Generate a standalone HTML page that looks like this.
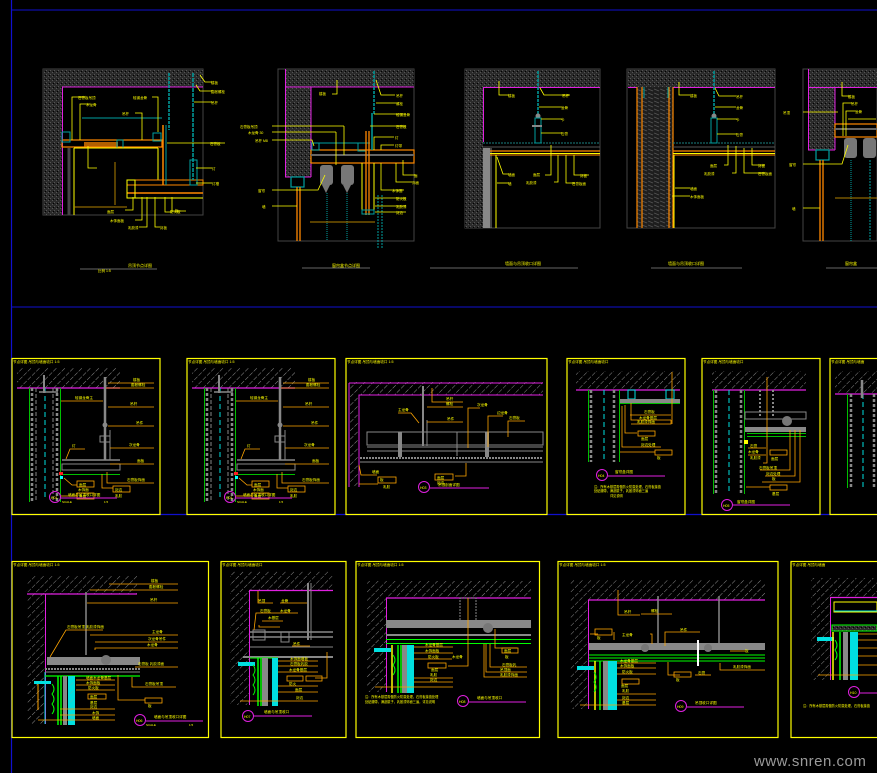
<!DOCTYPE html>
<html><head><meta charset="utf-8"><style>
html,body{margin:0;padding:0;background:#000;}
svg{display:block}
text{font-family:"Liberation Sans","Noto Sans CJK SC",sans-serif;}
</style></head><body>
<svg width="877" height="773" viewBox="0 0 877 773" xmlns="http://www.w3.org/2000/svg">
<defs>
<pattern id="cx" width="4" height="4" patternUnits="userSpaceOnUse">
<rect width="4" height="4" fill="#2a2a2a"/><rect x="0" y="0" width="1" height="1" fill="#555"/><rect x="2" y="2" width="1" height="1" fill="#555"/><rect x="1" y="3" width="1" height="1" fill="#000"/>
</pattern>
<pattern id="dg" width="6" height="6" patternUnits="userSpaceOnUse" patternTransform="rotate(45)">
<line x1="0" y1="0" x2="0" y2="6" stroke="#9a9a9a" stroke-width="0.9" stroke-dasharray="3,1.5"/>
</pattern>
<pattern id="wd" width="6" height="4" patternUnits="userSpaceOnUse">
<rect width="6" height="4" fill="#1e1e1e"/><line x1="0" y1="1" x2="5" y2="3" stroke="#555" stroke-width="0.8"/>
</pattern>
</defs>
<rect width="877" height="773" fill="#000"/>
<!-- frame lines -->
<line x1="11" y1="10" x2="877" y2="10" stroke="#1010d0" stroke-width="1"/>
<line x1="11" y1="307" x2="877" y2="307" stroke="#1010d0" stroke-width="1"/>
<line x1="11" y1="514.5" x2="877" y2="514.5" stroke="#1010d0" stroke-width="1.2"/>
<line x1="11.5" y1="0" x2="11.5" y2="773" stroke="#1010d0" stroke-width="1.2"/>

<!-- ===== TOP ROW ===== -->
<!-- D1 -->
<g>
<rect x="43" y="69" width="160" height="146" fill="none" stroke="#444"/>
<rect x="43" y="69" width="160" height="18" fill="url(#cx)"/>
<rect x="43" y="87" width="19" height="128" fill="url(#cx)"/>
<line x1="62" y1="87" x2="203" y2="87" stroke="#e020e0"/>
<line x1="62.5" y1="87" x2="62.5" y2="215" stroke="#e020e0"/>
<rect x="62" y="140" width="100" height="7" fill="none" stroke="#ff8800" stroke-width="1.2"/>
<rect x="84" y="142" width="34" height="5" fill="#ff8800" opacity="0.7"/>
<rect x="62" y="132" width="8" height="10" fill="none" stroke="#00a0a0"/>
<rect x="117" y="140" width="6" height="8" fill="none" stroke="#00a0a0"/>
<rect x="153" y="133" width="8" height="8" fill="none" stroke="#00a0a0"/>
<line x1="82" y1="118" x2="162" y2="118" stroke="#00a0a0"/>
<line x1="69" y1="148" x2="69" y2="215" stroke="#444" stroke-width="3"/>
<line x1="74" y1="148" x2="74" y2="215" stroke="#ffff00"/>
<line x1="74" y1="148" x2="158" y2="148" stroke="#ffff00"/>
<line x1="158" y1="148" x2="158" y2="180" stroke="#ffff00"/>
<rect x="127" y="180" width="76" height="5" fill="none" stroke="#ff8800"/>
<line x1="127" y1="193" x2="203" y2="193" stroke="#ff8800" stroke-width="1.4"/>
<line x1="127" y1="198" x2="203" y2="198" stroke="#ffff00"/>
<rect x="127" y="180" width="8" height="18" fill="none" stroke="#ffff00"/>
<line x1="163" y1="125" x2="163" y2="185" stroke="#ff8800" stroke-width="1.5"/>
<line x1="166" y1="125" x2="166" y2="185" stroke="#00a0a0"/>
<line x1="169" y1="73" x2="169" y2="130" stroke="#00a0a0" stroke-width="1.5" stroke-dasharray="3,1"/>
<line x1="193" y1="73" x2="193" y2="180" stroke="#00a0a0" stroke-width="1.5" stroke-dasharray="4,1"/>
<rect x="190" y="160" width="7" height="25" fill="none" stroke="#00a0a0"/>
<line x1="115" y1="162" x2="115" y2="205" stroke="#b08000"/>
<line x1="74" y1="207" x2="127" y2="207" stroke="#b08000"/>
<g stroke="#ffff00" stroke-width="0.8" fill="none">
<polyline points="72,140 72,97 85,97"/><polyline points="80,140 80,104 90,104"/><polyline points="158,132 158,97 152,97"/>
<polyline points="142,140 142,113 135,113"/><polyline points="88,146 88,168 97,168"/><polyline points="200,75 205,82 212,82"/>
<polyline points="196,85 200,91 212,91"/><line x1="194" y1="102" x2="212" y2="102"/><line x1="167" y1="143" x2="225" y2="143"/>
<line x1="196" y1="168" x2="212" y2="168"/><line x1="196" y1="183" x2="212" y2="183"/><polyline points="133,197 133,210 125,210"/>
<polyline points="142,197 142,220 135,220"/><polyline points="147,197 147,227 139,227"/><polyline points="155,197 155,227 160,227"/>
<polyline points="165,197 165,212 172,212"/><polyline points="172,197 172,211 186,211"/>
</g>
<g fill="#ffff00" font-size="3.5">
<text x="78" y="99">石膏板吊顶</text><text x="86" y="106">木龙骨</text><text x="133" y="99">轻钢龙骨</text><text x="122" y="115">吊杆</text>
<text x="211" y="84">楼板</text><text x="211" y="93">膨胀螺栓</text><text x="211" y="104">吊杆</text><text x="210" y="145">石膏板</text>
<text x="212" y="170">灯</text><text x="212" y="185">灯槽</text><text x="107" y="213">面层</text><text x="110" y="222">木饰面板</text>
<text x="128" y="229">乳胶漆</text><text x="160" y="229">封板</text><text x="170" y="213">防火板</text><text x="175" y="212">板</text>
</g>
<text x="128" y="267" fill="#ffff00" font-size="4">吊顶节点详图</text>
<line x1="80" y1="269" x2="157" y2="269" stroke="#666"/>
<text x="98" y="272" fill="#ffff00" font-size="3.5">比例 1:5</text>
</g>

<!-- D2 -->
<g>
<rect x="278" y="69" width="136" height="172" fill="none" stroke="#444"/>
<rect x="285" y="69" width="129" height="18" fill="url(#cx)"/>
<rect x="285" y="87" width="26" height="90" fill="url(#cx)"/>
<line x1="285.5" y1="69" x2="285.5" y2="177" stroke="#e020e0"/>
<line x1="285" y1="87" x2="414" y2="87" stroke="#e020e0"/>
<line x1="311" y1="87" x2="311" y2="177" stroke="#e020e0"/>
<line x1="285" y1="177" x2="311" y2="177" stroke="#e020e0"/>
<rect x="291" y="177" width="13" height="10" fill="none" stroke="#00a0a0" stroke-width="1.2"/>
<line x1="297" y1="187" x2="297" y2="241" stroke="#ff8800" stroke-width="1.3"/>
<line x1="300" y1="187" x2="300" y2="241" stroke="#ff8800" stroke-width="1.3"/>
<rect x="311" y="150" width="103" height="13" fill="none" stroke="#ff8800" stroke-width="1.2"/>
<line x1="311" y1="155" x2="414" y2="155" stroke="#666" stroke-width="2"/>
<line x1="311" y1="143" x2="370" y2="143" stroke="#00a0a0"/>
<rect x="312" y="143" width="7" height="7" fill="none" stroke="#00a0a0"/>
<rect x="358" y="143" width="8" height="8" fill="none" stroke="#00a0a0"/>
<rect x="320" y="165" width="13" height="20" rx="3" fill="#777"/><rect x="341" y="165" width="13" height="20" rx="3" fill="#777"/>
<path d="M322,185 l4,8 l4,-8 M343,185 l4,8 l4,-8" fill="#777"/>
<line x1="327" y1="193" x2="327" y2="241" stroke="#00a0a0" stroke-dasharray="1,1"/>
<line x1="347" y1="193" x2="347" y2="241" stroke="#00a0a0" stroke-dasharray="1,1"/>
<line x1="366" y1="131" x2="366" y2="215" stroke="#ff8800" stroke-width="1.3"/>
<line x1="369" y1="131" x2="369" y2="215" stroke="#ff8800" stroke-width="1.3"/>
<line x1="372" y1="113" x2="372" y2="150" stroke="#00a0a0" stroke-width="1.5"/>
<line x1="374" y1="71" x2="374" y2="115" stroke="#00a0a0" stroke-width="1.5" stroke-dasharray="3,1"/>
<line x1="362" y1="163" x2="362" y2="213" stroke="#ffff00"/>
<line x1="374" y1="163" x2="374" y2="213" stroke="#ffff00"/>
<rect x="362" y="210" width="12" height="4" fill="none" stroke="#00a0a0"/>
<line x1="378" y1="195" x2="378" y2="248" stroke="#00a0a0" stroke-dasharray="2,1"/>
<line x1="382" y1="195" x2="382" y2="248" stroke="#00a0a0" stroke-dasharray="2,1"/>
<line x1="310" y1="222" x2="375" y2="222" stroke="#b08000"/>
<g stroke="#ffff00" stroke-width="0.8" fill="none">
<line x1="272" y1="126" x2="344" y2="126"/><line x1="344" y1="126" x2="344" y2="155"/>
<line x1="272" y1="132" x2="336" y2="132"/><line x1="336" y1="132" x2="336" y2="165"/>
<polyline points="272,140 312,140 314,146"/><polyline points="272,190 318,190 325,175"/><line x1="272" y1="206" x2="297" y2="206"/>
<polyline points="337,80 337,94 332,94"/><polyline points="376,80 381,95 395,95"/><line x1="376" y1="103" x2="396" y2="103"/>
<line x1="374" y1="114" x2="406" y2="114"/><line x1="370" y1="126" x2="406" y2="126"/><polyline points="374,150 374,137 394,137"/>
<polyline points="381,150 381,145 394,145"/><polyline points="403,160 403,175 415,175"/><polyline points="396,163 396,182 412,182"/>
<polyline points="381,163 381,190 404,190"/><line x1="375" y1="198" x2="406" y2="198"/><line x1="375" y1="206" x2="406" y2="206"/><line x1="375" y1="212" x2="406" y2="212"/>
</g>
<g fill="#ffff00" font-size="3.5">
<text x="240" y="128">石膏板吊顶</text><text x="248" y="134">木龙骨 30</text><text x="255" y="142">吊杆 M8</text><text x="258" y="192">窗帘</text><text x="262" y="208">墙</text>
<text x="319" y="95">楼板</text><text x="396" y="97">吊杆</text><text x="396" y="105">螺栓</text><text x="396" y="116">轻钢龙骨</text><text x="396" y="128">石膏板</text>
<text x="395" y="139">灯</text><text x="395" y="147">灯带</text><text x="414" y="177">面</text><text x="412" y="184">饰面</text><text x="392" y="192">木饰面</text>
<text x="396" y="200">防火板</text><text x="396" y="208">乳胶漆</text><text x="396" y="214">封边</text>
</g>
<text x="332" y="267" fill="#ffff00" font-size="4">窗帘盒节点详图</text>
<line x1="302" y1="268" x2="370" y2="268" stroke="#666"/>
</g>

<!-- D3 -->
<g>
<rect x="465" y="69" width="135" height="159" fill="none" stroke="#444"/>
<rect x="465" y="69" width="135" height="18" fill="url(#cx)"/>
<rect x="465" y="87" width="18" height="141" fill="url(#cx)"/>
<line x1="483" y1="87.5" x2="600" y2="87.5" stroke="#e020e0"/>
<line x1="483.5" y1="87" x2="483.5" y2="142" stroke="#e020e0"/>
<rect x="483" y="148" width="7" height="80" fill="#888"/>
<line x1="491" y1="148" x2="491" y2="228" stroke="#ddd" stroke-width="0.6"/>
<line x1="483" y1="143" x2="600" y2="143" stroke="#1a8080" stroke-dasharray="2,1"/>
<line x1="483" y1="147" x2="600" y2="147" stroke="#555"/>
<line x1="490" y1="151" x2="600" y2="151" stroke="#ff8800" stroke-width="1.2"/>
<line x1="490" y1="153.5" x2="600" y2="153.5" stroke="#ffff00"/>
<line x1="490" y1="155" x2="600" y2="155" stroke="#ff8800"/>
<line x1="496" y1="155" x2="496" y2="228" stroke="#ffff00"/>
<line x1="538" y1="71" x2="538" y2="115" stroke="#00a0a0" stroke-width="1.5" stroke-dasharray="3,1"/>
<circle cx="538" cy="116" r="2.5" fill="#888"/>
<rect x="535" y="118" width="6" height="25" fill="none" stroke="#00a0a0"/>
<line x1="532" y1="126" x2="542" y2="126" stroke="#888" stroke-width="2"/>
<g stroke="#ffff00" stroke-width="0.8" fill="none">
<polyline points="499,81 499,95 509,95"/><polyline points="540,88 544,95 570,95"/><line x1="539" y1="107" x2="562" y2="107"/>
<line x1="541" y1="119" x2="562" y2="119"/><line x1="541" y1="133" x2="562" y2="133"/><polyline points="497,157 503,174 509,174"/>
<polyline points="551,145 551,175 545,175"/><polyline points="558,155 558,182 554,182"/><polyline points="566,155 566,183 575,183"/>
<polyline points="574,155 574,175 589,175"/><line x1="497" y1="183" x2="509" y2="183"/>
</g>
<g fill="#ffff00" font-size="3.5">
<text x="508" y="97">楼板</text><text x="562" y="97">吊杆</text><text x="561" y="109">龙骨</text><text x="561" y="121">卡</text><text x="561" y="135">石膏</text>
<text x="508" y="176">墙面</text><text x="533" y="176">面层</text><text x="526" y="184">乳胶漆</text><text x="572" y="185">石膏板面</text><text x="580" y="177">封板</text><text x="508" y="185">墙</text>
</g>
<text x="505" y="265" fill="#ffff00" font-size="4">墙面与吊顶收口详图</text>
<line x1="430" y1="268" x2="578" y2="268" stroke="#666"/>
</g>

<!-- D4 -->
<g>
<rect x="627" y="69" width="148" height="159" fill="none" stroke="#444"/>
<rect x="627" y="69" width="148" height="18" fill="url(#cx)"/>
<line x1="628" y1="87.5" x2="775" y2="87.5" stroke="#e020e0"/>
<rect x="637" y="87" width="36" height="141" fill="url(#wd)"/>
<line x1="637" y1="87" x2="637" y2="228" stroke="#ff8800" stroke-width="1.2"/>
<line x1="642" y1="87" x2="642" y2="228" stroke="#ff8800" stroke-width="1.2"/>
<line x1="669" y1="87" x2="669" y2="228" stroke="#ff8800" stroke-width="1.2"/>
<line x1="673" y1="87" x2="673" y2="228" stroke="#ff8800" stroke-width="1.2"/>
<line x1="644" y1="87" x2="644" y2="98" stroke="#00a0a0"/><line x1="668" y1="87" x2="668" y2="98" stroke="#00a0a0"/>
<line x1="673" y1="143" x2="775" y2="143" stroke="#1a8080" stroke-dasharray="2,1"/>
<line x1="673" y1="147" x2="775" y2="147" stroke="#555"/>
<line x1="673" y1="151" x2="775" y2="151" stroke="#ff8800" stroke-width="1.2"/>
<line x1="673" y1="153.5" x2="775" y2="153.5" stroke="#ffff00"/>
<line x1="673" y1="155" x2="775" y2="155" stroke="#ff8800"/>
<line x1="674" y1="155" x2="674" y2="228" stroke="#ffff00"/>
<line x1="714" y1="71" x2="714" y2="115" stroke="#00a0a0" stroke-width="1.5" stroke-dasharray="3,1"/>
<circle cx="714" cy="116" r="2.5" fill="#888"/>
<rect x="711" y="118" width="6" height="25" fill="none" stroke="#00a0a0"/>
<g stroke="#ffff00" stroke-width="0.8" fill="none">
<polyline points="679,82 679,95 690,95"/><polyline points="715,88 719,96 736,96"/><line x1="715" y1="107" x2="736" y2="107"/>
<line x1="717" y1="119" x2="737" y2="119"/><line x1="717" y1="134" x2="737" y2="134"/><polyline points="728,145 728,165 724,165"/>
<polyline points="736,146 736,173 732,173"/><polyline points="744,148 744,173 765,173"/><polyline points="752,148 752,165 765,165"/>
<line x1="675" y1="188" x2="690" y2="188"/><line x1="672" y1="196" x2="690" y2="196"/>
</g>
<g fill="#ffff00" font-size="3.5">
<text x="690" y="97">楼板</text><text x="736" y="98">吊杆</text><text x="736" y="109">龙骨</text><text x="736" y="121">卡</text><text x="736" y="136">石膏</text>
<text x="710" y="167">面层</text><text x="704" y="175">乳胶漆</text><text x="758" y="175">石膏板面</text><text x="758" y="167">封板</text><text x="690" y="190">墙面</text><text x="690" y="198">木饰面板</text>
</g>
<text x="668" y="265" fill="#ffff00" font-size="4">墙面与吊顶收口详图</text>
<line x1="651" y1="268" x2="742" y2="268" stroke="#666"/>
</g>

<!-- D5 -->
<g>
<rect x="803" y="69" width="74" height="172" fill="none" stroke="#444"/>
<rect x="808" y="69" width="69" height="18" fill="url(#cx)"/>
<rect x="808" y="87" width="27" height="63" fill="url(#cx)"/>
<line x1="808.5" y1="69" x2="808.5" y2="150" stroke="#e020e0"/>
<line x1="808" y1="87.5" x2="877" y2="87.5" stroke="#e020e0"/>
<line x1="835" y1="87" x2="835" y2="150" stroke="#e020e0"/>
<line x1="808" y1="150" x2="835" y2="150" stroke="#e020e0"/>
<rect x="816" y="150" width="13" height="10" fill="none" stroke="#00a0a0" stroke-width="1.2"/>
<line x1="820" y1="160" x2="820" y2="241" stroke="#ff8800" stroke-width="1.3"/>
<line x1="823" y1="160" x2="823" y2="241" stroke="#ff8800" stroke-width="1.3"/>
<rect x="835" y="124" width="42" height="13" fill="none" stroke="#ff8800" stroke-width="1.2"/>
<line x1="835" y1="129" x2="877" y2="129" stroke="#666" stroke-width="2"/>
<rect x="844" y="138" width="13" height="20" rx="3" fill="#777"/><rect x="863" y="138" width="13" height="20" rx="3" fill="#777"/>
<line x1="851" y1="160" x2="851" y2="241" stroke="#00a0a0" stroke-dasharray="1,1"/>
<line x1="870" y1="160" x2="870" y2="241" stroke="#00a0a0" stroke-dasharray="2,1"/>
<line x1="835" y1="198" x2="877" y2="198" stroke="#b08000"/>
<g stroke="#ffff00" stroke-width="0.8" fill="none">
<polyline points="842,82 842,96 850,96"/><polyline points="843,136 843,103 852,103"/><polyline points="846,136 846,111 856,111"/>
<line x1="848" y1="119" x2="876" y2="119"/><line x1="803" y1="112" x2="838" y2="112"/><polyline points="803,164 842,164 848,145"/><line x1="803" y1="208" x2="820" y2="208"/>
</g>
<g fill="#ffff00" font-size="3.5"><text x="848" y="98">楼板</text><text x="851" y="105">吊杆</text><text x="855" y="113">龙骨</text><text x="783" y="114">吊顶</text><text x="789" y="166">窗帘</text><text x="792" y="210">墙</text></g>
<text x="845" y="265" fill="#ffff00" font-size="4">窗帘盒</text>
<line x1="826" y1="268" x2="877" y2="268" stroke="#666"/>
</g>

<!-- ===== MIDDLE ROW ===== -->
<g fill="none" stroke="#ffff00" stroke-width="1.2">
<rect x="12" y="358.5" width="148" height="156"/>
<rect x="187" y="358.5" width="148" height="156"/>
<rect x="346" y="358.5" width="201" height="156"/>
<rect x="567" y="358.5" width="118" height="156"/>
<rect x="702" y="358.5" width="118" height="156"/>
<rect x="830" y="358.5" width="60" height="156"/>
</g>
<g fill="#ffff00" font-size="3.6">
<text x="13" y="363">节点详图 吊顶与墙面收口 1:5</text>
<text x="188" y="363">节点详图 吊顶与墙面收口 1:5</text>
<text x="347" y="363">节点详图 吊顶与墙面收口 1:5</text>
<text x="568" y="363">节点详图 吊顶与墙面收口</text>
<text x="703" y="363">节点详图 吊顶与墙面收口</text>
<text x="831" y="363">节点详图 吊顶与墙面</text>
</g>

<!-- MP1 & MP2 (same design) -->
<g id="mp1">
<rect x="17" y="368" width="103" height="20" fill="url(#dg)"/>
<line x1="17" y1="388" x2="120" y2="388" stroke="#e020e0" stroke-width="1.2"/>
<line x1="29.5" y1="388" x2="29.5" y2="502" stroke="#00c000"/>
<line x1="60.5" y1="388" x2="60.5" y2="502" stroke="#00c000"/>
<line x1="32" y1="388" x2="32" y2="502" stroke="#888" stroke-width="2.5" stroke-dasharray="3,2"/>
<line x1="36" y1="388" x2="36" y2="502" stroke="#888" stroke-dasharray="4,2"/>
<line x1="53" y1="388" x2="53" y2="502" stroke="#888" stroke-dasharray="4,2"/>
<line x1="57" y1="388" x2="57" y2="502" stroke="#888" stroke-width="2.5" stroke-dasharray="3,2"/>
<line x1="45" y1="388" x2="45" y2="500" stroke="#00e0e0" stroke-dasharray="5,3"/>
<line x1="44" y1="375" x2="44" y2="393" stroke="#888" stroke-width="2"/>
<line x1="39" y1="392" x2="58" y2="392" stroke="#888" stroke-width="1.5"/>
<line x1="105" y1="377" x2="105" y2="460" stroke="#888" stroke-width="2.5"/>
<circle cx="105" cy="425" r="2.5" fill="#888"/>
<rect x="100" y="436" width="10" height="6" fill="none" stroke="#888"/>
<line x1="110" y1="430" x2="110" y2="460" stroke="#888"/>
<line x1="62" y1="460" x2="120" y2="460" stroke="#888" stroke-width="1.5"/>
<rect x="62" y="464" width="58" height="6" fill="none" stroke="#888"/>
<line x1="62" y1="474.5" x2="120" y2="474.5" stroke="#00c000"/>
<rect x="59" y="472" width="4" height="3" fill="#ff2020"/><rect x="60" y="476" width="3" height="3" fill="#00ffff"/>
<g stroke="#ffa500" stroke-width="0.8" fill="none">
<line x1="108" y1="383" x2="154" y2="383"/><line x1="106" y1="388" x2="154" y2="388"/><line x1="61" y1="401" x2="103" y2="401"/>
<line x1="108" y1="407" x2="154" y2="407"/><line x1="108" y1="426" x2="154" y2="426"/><line x1="110" y1="448" x2="154" y2="448"/>
<line x1="110" y1="464" x2="154" y2="464"/><polyline points="107,472 107,483 154,483"/><polyline points="102,474 102,488 113,488"/>
<polyline points="66,459 70,449 85,449"/><polyline points="64,478 72,485 77,485"/><line x1="61" y1="496" x2="77" y2="496"/>
</g>
<g fill="none" stroke="#ffa500" stroke-width="0.8"><rect x="77" y="481" width="17" height="6"/><rect x="77" y="493" width="17" height="6"/><rect x="113" y="486" width="17" height="6"/></g>
<g fill="#ffff00" font-size="3.6">
<text x="133" y="381">楼板</text><text x="131" y="386">膨胀螺栓</text><text x="75" y="399">轻钢龙骨主</text><text x="130" y="405">吊杆</text><text x="136" y="424">吊件</text>
<text x="129" y="446">次龙骨</text><text x="137" y="462">面板</text><text x="127" y="481">石膏板饰面</text><text x="72" y="447">灯</text>
<text x="79" y="486">面层</text><text x="79" y="498">基层</text><text x="115" y="491">封边</text><text x="78" y="491">木饰面</text><text x="115" y="497">乳胶</text>
</g>
<circle cx="55" cy="497" r="5.5" fill="none" stroke="#e020e0"/>
<text x="51" y="499" fill="#ffff00" font-size="3.5">H01</text>
<line x1="61" y1="498" x2="117" y2="498" stroke="#e020e0"/>
<text x="68" y="496" fill="#ffff00" font-size="3.6">墙面与吊顶收口详图</text>
<text x="62" y="503" fill="#ffff00" font-size="3">SCALE</text><text x="104" y="503" fill="#ffff00" font-size="3">1:5</text>
</g>
<use href="#mp1" x="175"/>

<!-- MP3 -->
<g>
<rect x="349" y="382" width="194" height="13" fill="url(#dg)"/>
<rect x="349" y="395" width="10" height="92" fill="url(#dg)"/>
<polyline points="349,383 543,383" stroke="#e020e0" fill="none"/>
<line x1="349" y1="383" x2="349" y2="487" stroke="#e020e0"/>
<polyline points="359,487 359,395 543,395" stroke="#e020e0" fill="none"/>
<line x1="423" y1="386" x2="423" y2="446" stroke="#888" stroke-width="2"/>
<line x1="427" y1="420" x2="427" y2="446" stroke="#888"/>
<rect x="367" y="432" width="176" height="13" fill="none" stroke="#888"/>
<line x1="367" y1="447" x2="543" y2="447" stroke="#888"/>
<line x1="367" y1="451" x2="543" y2="451" stroke="#888"/>
<line x1="360" y1="458" x2="543" y2="458" stroke="#888" stroke-dasharray="2,1" stroke-width="2"/>
<line x1="360" y1="462" x2="543" y2="462" stroke="#888"/>
<rect x="398" y="432" width="4" height="25" fill="#888"/><rect x="485" y="432" width="4" height="25" fill="#888"/>
<line x1="457" y1="432" x2="457" y2="456" stroke="#888"/>
<g stroke="#ffa500" stroke-width="0.8" fill="none">
<polyline points="432,388 432,402 463,402"/><line x1="427" y1="407" x2="463" y2="407"/><polyline points="419,423 411,413 398,413"/>
<line x1="427" y1="422" x2="463" y2="422"/><polyline points="468,448 468,408 480,408"/><polyline points="488,447 488,416 503,416"/>
<polyline points="508,437 508,421 525,421"/><polyline points="466,463 466,476 455,476"/><polyline points="359,465 361,475 377,475"/><line x1="359" y1="484" x2="378" y2="484"/>
</g>
<g fill="none" stroke="#ffa500" stroke-width="0.8"><rect x="435" y="474" width="18" height="6"/><rect x="378" y="477" width="18" height="6"/></g>
<g fill="#ffff00" font-size="3.6">
<text x="446" y="400">吊杆</text><text x="446" y="405">螺栓</text><text x="398" y="411">主龙骨</text><text x="447" y="420">吊件</text><text x="477" y="406">次龙骨</text>
<text x="497" y="414">边龙骨</text><text x="509" y="419">石膏板</text><text x="372" y="473">墙面</text><text x="437" y="479">面层</text><text x="437" y="484">封边</text><text x="380" y="481">板</text><text x="383" y="488">乳胶</text>
</g>
<circle cx="424" cy="487" r="5.5" fill="none" stroke="#e020e0"/>
<text x="420" y="489" fill="#ffff00" font-size="3.5">H03</text>
<line x1="430" y1="488" x2="489" y2="488" stroke="#e020e0"/>
<text x="438" y="486" fill="#ffff00" font-size="3.6">吊顶剖面详图</text>
</g>

<!-- MP4 -->
<g>
<rect x="576" y="371" width="104" height="19" fill="url(#dg)"/>
<line x1="576" y1="390" x2="680" y2="390" stroke="#e020e0" stroke-width="1.2"/>
<line x1="588.5" y1="390" x2="588.5" y2="462" stroke="#00c000"/>
<line x1="619.5" y1="390" x2="619.5" y2="462" stroke="#00c000"/>
<line x1="591" y1="390" x2="591" y2="462" stroke="#888" stroke-width="2.5" stroke-dasharray="3,2"/>
<line x1="614" y1="390" x2="614" y2="462" stroke="#888" stroke-width="2.5" stroke-dasharray="3,2"/>
<line x1="604" y1="390" x2="604" y2="462" stroke="#00e0e0" stroke-dasharray="5,3"/>
<rect x="628" y="390" width="7" height="9" fill="none" stroke="#00e0e0"/><rect x="666" y="390" width="8" height="9" fill="none" stroke="#00e0e0"/>
<rect x="620" y="399" width="60" height="4" fill="#888"/>
<line x1="620" y1="403.5" x2="680" y2="403.5" stroke="#00c000"/>
<g stroke="#ffa500" stroke-width="0.8" fill="none">
<polyline points="631,403 631,420 671,420"/><line x1="630" y1="415" x2="671" y2="415"/><polyline points="671,420 671,424 631,424"/>
<polyline points="672,372 672,424"/><polyline point="625,405" points="625,405 625,433 637,433"/><polyline points="622,406 622,447 661,447"/><polyline points="620,452 655,452"/>
</g>
<g fill="none" stroke="#ffa500" stroke-width="0.8"><rect x="638" y="431" width="17" height="5"/><rect x="655" y="450" width="17" height="5"/></g>
<g fill="#ffff00" font-size="3.6"><text x="644" y="413">石膏板</text><text x="639" y="419">木龙骨基层</text><text x="637" y="423">乳胶漆饰面</text><text x="641" y="440">面层</text><text x="641" y="446">封边处理</text><text x="657" y="459">板</text></g>
<circle cx="602" cy="475" r="5.5" fill="none" stroke="#e020e0"/>
<text x="598" y="477" fill="#ffff00" font-size="3.5">H04</text>
<line x1="608" y1="476" x2="665" y2="476" stroke="#e020e0"/>
<text x="615" y="473" fill="#ffff00" font-size="3.6">窗帘盒详图</text>
<g fill="#ffff00" font-size="3.2"><text x="594" y="488">注：所有木基层需做防火防腐处理，石膏板接缝</text><text x="594" y="492">处贴绷带，满刮腻子，乳胶漆饰面三遍</text><text x="610" y="497">详见说明</text></g>
</g>

<!-- MP5 -->
<g>
<rect x="712" y="371" width="94" height="19" fill="url(#dg)"/>
<line x1="712" y1="390" x2="806" y2="390" stroke="#e020e0" stroke-width="1.2"/>
<line x1="713.5" y1="390" x2="713.5" y2="494" stroke="#00c000"/>
<line x1="744.5" y1="390" x2="744.5" y2="494" stroke="#00c000"/>
<line x1="716" y1="390" x2="716" y2="494" stroke="#888" stroke-width="2.5" stroke-dasharray="3,2"/>
<line x1="741" y1="390" x2="741" y2="494" stroke="#888" stroke-width="2.5" stroke-dasharray="3,2"/>
<line x1="729" y1="390" x2="729" y2="492" stroke="#00e0e0" stroke-dasharray="5,3"/>
<line x1="760" y1="390" x2="760" y2="418" stroke="#888" stroke-dasharray="2,2" stroke-width="2"/>
<line x1="773" y1="390" x2="773" y2="418" stroke="#888" stroke-dasharray="2,2" stroke-width="2"/>
<rect x="745" y="412" width="61" height="7" fill="none" stroke="#888"/>
<rect x="745" y="427" width="61" height="5" fill="#888"/>
<circle cx="787" cy="421" r="5" fill="#777"/>
<line x1="747" y1="433.5" x2="806" y2="433.5" stroke="#00c000"/>
<line x1="747" y1="436.5" x2="806" y2="436.5" stroke="#00c000"/>
<rect x="744" y="440" width="4" height="4" fill="#ffff00"/>
<g stroke="#ffa500" stroke-width="0.8" fill="none">
<polyline points="767,377 767,463 763,463"/><polyline points="790,430 790,470 760,470"/><polyline points="795,430 795,476 765,476"/>
<polyline points="800,430 800,482 762,482"/><line x1="746" y1="487" x2="770" y2="487"/><line x1="748" y1="448" x2="766" y2="448"/><line x1="748" y1="455" x2="766" y2="455"/>
</g>
<g fill="none" stroke="#ffa500" stroke-width="0.8"><rect x="770" y="450" width="17" height="5"/><rect x="770" y="485" width="17" height="5"/></g>
<g fill="#ffff00" font-size="3.6"><text x="750" y="447">石膏</text><text x="748" y="453">木龙骨</text><text x="750" y="459">乳胶漆</text><text x="771" y="460">面层</text><text x="759" y="469">石膏板吊顶</text><text x="766" y="475">封边处理</text><text x="772" y="480">板</text><text x="772" y="495">基层</text></g>
<circle cx="727" cy="505" r="5.5" fill="none" stroke="#e020e0"/>
<text x="723" y="507" fill="#ffff00" font-size="3.5">H05</text>
<line x1="733" y1="505" x2="790" y2="505" stroke="#e020e0"/>
<text x="737" y="503" fill="#ffff00" font-size="3.6">窗帘盒详图</text>
</g>

<!-- MP6 -->
<g>
<rect x="835" y="371" width="42" height="23" fill="url(#dg)"/>
<line x1="835" y1="394" x2="877" y2="394" stroke="#e020e0" stroke-width="1.2"/>
<line x1="847.5" y1="394" x2="847.5" y2="488" stroke="#00c000"/>
<line x1="851" y1="394" x2="851" y2="488" stroke="#888" stroke-width="2.5" stroke-dasharray="3,2"/>
<line x1="863" y1="394" x2="863" y2="488" stroke="#00e0e0" stroke-dasharray="5,3"/>
<line x1="874" y1="394" x2="874" y2="488" stroke="#888" stroke-width="2.5" stroke-dasharray="3,2"/>
<line x1="862" y1="380" x2="862" y2="398" stroke="#888" stroke-width="2.5"/>
</g>

<!-- ===== BOTTOM ROW ===== -->
<g fill="none" stroke="#ffff00" stroke-width="1.2">
<rect x="12" y="561.5" width="196.5" height="176"/>
<rect x="221" y="561.5" width="125" height="176"/>
<rect x="356" y="561.5" width="183.5" height="176"/>
<rect x="558" y="561.5" width="220" height="176"/>
<rect x="791" y="561.5" width="90" height="176"/>
</g>
<g fill="#ffff00" font-size="3.6">
<text x="13" y="566">节点详图 吊顶与墙面收口 1:5</text>
<text x="222" y="566">节点详图 吊顶与墙面收口</text>
<text x="357" y="566">节点详图 吊顶与墙面收口 1:5</text>
<text x="559" y="566">节点详图 吊顶与墙面收口 1:5</text>
<text x="792" y="566">节点详图 吊顶与墙面</text>
</g>

<!-- BP1 -->
<g>
<rect x="27" y="576" width="110" height="18" fill="url(#dg)"/>
<rect x="27" y="594" width="18" height="130" fill="url(#dg)"/>
<line x1="27" y1="594" x2="137" y2="594" stroke="#e020e0" stroke-width="1.2"/>
<line x1="45.5" y1="594" x2="45.5" y2="724" stroke="#e020e0"/>
<line x1="45" y1="672" x2="45" y2="724" stroke="#00e0e0"/>
<line x1="86" y1="592" x2="86" y2="655" stroke="#888" stroke-width="1.5"/>
<rect x="47" y="657" width="93" height="8" fill="#888"/>
<line x1="45" y1="669" x2="140" y2="669" stroke="#888" stroke-dasharray="2,1" stroke-width="2"/>
<line x1="45" y1="672" x2="140" y2="672" stroke="#888"/>
<circle cx="106" cy="660" r="5" fill="#777"/>
<line x1="45" y1="676" x2="140" y2="676" stroke="#00ff00" stroke-width="1.2"/>
<rect x="34" y="681" width="17" height="3" fill="#00e0e0"/>
<line x1="58" y1="676" x2="58" y2="725" stroke="#00ff00" stroke-width="1.5"/>
<line x1="61" y1="676" x2="61" y2="725" stroke="#00ff00" stroke-width="1.5"/>
<rect x="63" y="676" width="4" height="49" fill="#888"/>
<rect x="68" y="676" width="7" height="49" fill="#00e0e0"/>
<rect x="69" y="676" width="5" height="49" fill="url(#dg)" opacity="0.5"/>
<path d="M52,684 q4,5 0,10 q4,5 0,10 q4,5 0,10" stroke="#00ff00" fill="none"/>
<line x1="38" y1="684" x2="38" y2="710" stroke="#ffa500"/>
<g stroke="#ffa500" stroke-width="0.8" fill="none">
<line x1="109" y1="584" x2="178" y2="584"/><line x1="90" y1="590" x2="178" y2="590"/><line x1="87" y1="603" x2="178" y2="603"/>
<polyline points="50,657 66,630 103,630"/><line x1="90" y1="635" x2="178" y2="635"/><line x1="95" y1="642" x2="178" y2="642"/>
<polyline points="95,650 95,648 178,648"/><polyline points="106,648 106,648"/><line x1="135" y1="667" x2="178" y2="667"/>
<polyline points="132,677 132,687 176,687"/><polyline points="118,675 118,700 145,700"/>
<line x1="76" y1="680" x2="115" y2="680"/><line x1="76" y1="685" x2="115" y2="685"/><line x1="76" y1="690" x2="115" y2="690"/>
<line x1="60" y1="709" x2="115" y2="709"/><line x1="60" y1="715" x2="115" y2="715"/><line x1="38" y1="720" x2="115" y2="720"/>
</g>
<g fill="none" stroke="#ffa500" stroke-width="0.8"><rect x="88" y="694" width="18" height="5"/><rect x="145" y="698" width="17" height="5"/></g>
<g fill="#ffff00" font-size="3.6">
<text x="151" y="582">楼板</text><text x="149" y="588">膨胀螺栓</text><text x="150" y="601">吊杆</text><text x="67" y="628">石膏板吊顶 乳胶漆饰面</text>
<text x="152" y="633">主龙骨</text><text x="148" y="640">次龙骨吊件</text><text x="147" y="646">木龙骨</text><text x="138" y="665">石膏板 乳胶漆面</text>
<text x="145" y="685">石膏板吊顶</text><text x="86" y="679">墙面木龙骨基层</text><text x="86" y="684">木饰面板</text><text x="88" y="689">防火板</text>
<text x="90" y="698">面层</text><text x="90" y="704">基层</text><text x="90" y="708">封边</text><text x="92" y="714">木饰</text><text x="92" y="719">墙面</text><text x="148" y="707">板</text>
</g>
<circle cx="140" cy="720" r="5.5" fill="none" stroke="#e020e0"/>
<text x="136" y="722" fill="#ffff00" font-size="3.5">H06</text>
<line x1="146" y1="721" x2="203" y2="721" stroke="#e020e0"/>
<text x="154" y="718" fill="#ffff00" font-size="3.6">墙面与吊顶收口详图</text>
<text x="146" y="726" fill="#ffff00" font-size="3">SCALE</text><text x="189" y="726" fill="#ffff00" font-size="3">1:5</text>
</g>

<!-- BP2 -->
<g>
<rect x="230" y="571" width="103" height="20" fill="url(#dg)"/>
<rect x="230" y="591" width="19" height="114" fill="url(#dg)"/>
<line x1="249" y1="590.5" x2="333" y2="590.5" stroke="#e020e0" stroke-width="1.2"/>
<line x1="249.5" y1="590" x2="249.5" y2="705" stroke="#e020e0"/>
<line x1="308" y1="583" x2="308" y2="640" stroke="#888" stroke-width="2"/>
<line x1="311" y1="583" x2="311" y2="640" stroke="#888"/>
<line x1="250" y1="632" x2="333" y2="632" stroke="#888" stroke-width="1.5"/>
<line x1="250" y1="637" x2="333" y2="637" stroke="#888" stroke-width="1.5"/>
<rect x="253" y="630" width="12" height="10" fill="none" stroke="#888"/>
<rect x="281" y="632" width="8" height="10" fill="none" stroke="#888"/>
<line x1="250" y1="647" x2="333" y2="647" stroke="#888"/>
<line x1="243" y1="657" x2="333" y2="657" stroke="#888" stroke-width="2"/>
<rect x="238" y="662" width="17" height="4" fill="#00e0e0"/>
<line x1="250" y1="658" x2="278" y2="658" stroke="#00ff00"/>
<line x1="258" y1="658" x2="258" y2="706" stroke="#00ff00" stroke-width="1.5"/>
<line x1="261" y1="658" x2="261" y2="706" stroke="#00ff00" stroke-width="1.5"/>
<rect x="262" y="658" width="6" height="48" fill="#888"/>
<rect x="272" y="658" width="6" height="48" fill="#00e0e0"/>
<path d="M253,665 q4,5 0,10 q4,5 0,10 q4,5 0,10" stroke="#00ff00" fill="none"/>
<g stroke="#ffa500" stroke-width="0.8" fill="none">
<polyline points="258,591 258,603 273,603"/><line x1="280" y1="603" x2="307" y2="603"/><polyline points="254,630 256,613 298,613"/>
<line x1="262" y1="621" x2="283" y2="621"/><polyline points="259,625 259,627 280,627"/><line x1="292" y1="646" x2="310" y2="646"/>
<polyline points="327,652 327,678 315,678"/><line x1="278" y1="661" x2="318" y2="661"/><line x1="278" y1="666" x2="318" y2="666"/>
<line x1="278" y1="672" x2="318" y2="672"/><line x1="278" y1="686" x2="318" y2="686"/><line x1="278" y1="692" x2="318" y2="692"/><line x1="240" y1="701" x2="318" y2="701"/>
</g>
<g fill="none" stroke="#ffa500" stroke-width="0.8"><rect x="287" y="676" width="16" height="5"/><rect x="306" y="676" width="16" height="5"/></g>
<g fill="#ffff00" font-size="3.6">
<text x="258" y="602">吊顶</text><text x="281" y="602">龙骨</text><text x="260" y="612">石膏板</text><text x="280" y="612">木龙骨</text><text x="268" y="619">木基层</text>
<text x="293" y="645">吊件</text><text x="290" y="660">木饰面墙板</text><text x="290" y="665">石膏板乳胶</text><text x="289" y="671">木龙骨基层</text>
<text x="289" y="685">防火</text><text x="295" y="691">面层</text><text x="296" y="699">封边</text>
</g>
<circle cx="248" cy="716" r="5.5" fill="none" stroke="#e020e0"/>
<text x="244" y="718" fill="#ffff00" font-size="3.5">H07</text>
<line x1="254" y1="716" x2="312" y2="716" stroke="#e020e0"/>
<text x="264" y="713" fill="#ffff00" font-size="3.6">墙面与吊顶收口</text>
</g>

<!-- BP3 -->
<g>
<rect x="367" y="581" width="164" height="17" fill="url(#dg)"/>
<rect x="367" y="598" width="19" height="94" fill="url(#dg)"/>
<line x1="386" y1="598" x2="531" y2="598" stroke="#e020e0" stroke-width="1.2"/>
<line x1="386.5" y1="598" x2="386.5" y2="692" stroke="#e020e0"/>
<rect x="460" y="598" width="16" height="28" fill="none" stroke="#888" stroke-dasharray="2,1"/>
<rect x="386" y="620" width="145" height="8" fill="#888"/>
<circle cx="488" cy="628" r="5" fill="#777"/>
<line x1="386" y1="635" x2="531" y2="635" stroke="#888" stroke-width="2"/>
<line x1="386" y1="639.5" x2="531" y2="639.5" stroke="#00ff00"/>
<line x1="386" y1="643.5" x2="531" y2="643.5" stroke="#00ff00"/>
<rect x="374" y="648" width="17" height="4" fill="#00e0e0"/>
<line x1="392" y1="645" x2="392" y2="693" stroke="#ffff00" stroke-width="1.5"/>
<line x1="398" y1="645" x2="398" y2="693" stroke="#00ff00" stroke-width="1.5"/>
<line x1="401" y1="645" x2="401" y2="693" stroke="#00ff00" stroke-width="1.5"/>
<rect x="402" y="645" width="5" height="48" fill="#888"/>
<rect x="407" y="645" width="7" height="48" fill="#00e0e0"/>
<path d="M393,655 q4,5 0,10 q4,5 0,10" stroke="#00ff00" fill="none"/>
<g stroke="#ffa500" stroke-width="0.8" fill="none">
<line x1="414" y1="647" x2="453" y2="647"/><line x1="414" y1="653" x2="453" y2="653"/><line x1="414" y1="659" x2="452" y2="659"/>
<polyline points="468,598 468,666 448,666"/><line x1="414" y1="678" x2="453" y2="678"/><line x1="414" y1="682" x2="453" y2="682"/><line x1="375" y1="687" x2="453" y2="687"/>
<polyline points="495,629 495,648 517,648"/><polyline points="490,644 490,667 527,667"/><polyline points="484,644 484,677 527,677"/><polyline points="486,644 486,672 527,672"/>
</g>
<g fill="none" stroke="#ffa500" stroke-width="0.8"><rect x="428" y="663" width="18" height="5"/><rect x="502" y="648" width="16" height="5"/></g>
<g fill="#ffff00" font-size="3.6">
<text x="425" y="646">木龙骨基层</text><text x="425" y="652">木饰面板</text><text x="428" y="658">防火板</text><text x="452" y="658">木龙骨</text><text x="431" y="671">面层</text>
<text x="430" y="676">乳胶</text><text x="430" y="681">封边</text><text x="504" y="652">面层</text><text x="505" y="658">板</text><text x="502" y="666">石膏板乳</text><text x="500" y="671">吊顶面</text><text x="500" y="676">乳胶漆饰面</text>
</g>
<g fill="#ffff00" font-size="3.2"><text x="365" y="698">注：所有木基层需做防火防腐处理，石膏板接缝处理</text><text x="365" y="703">处贴绷带，满刮腻子，乳胶漆饰面三遍，详见说明</text></g>
<circle cx="463" cy="701" r="5.5" fill="none" stroke="#e020e0"/>
<text x="459" y="703" fill="#ffff00" font-size="3.5">H08</text>
<line x1="469" y1="702" x2="526" y2="702" stroke="#e020e0"/>
<text x="477" y="699" fill="#ffff00" font-size="3.6">墙面与吊顶收口</text>
</g>

<!-- BP4 -->
<g>
<rect x="570" y="580" width="195" height="20" fill="url(#dg)"/>
<rect x="570" y="600" width="18" height="109" fill="url(#dg)"/>
<line x1="588" y1="600" x2="765" y2="600" stroke="#e020e0" stroke-width="1.2"/>
<line x1="588.5" y1="600" x2="588.5" y2="709" stroke="#e020e0"/>
<line x1="658" y1="596" x2="658" y2="643" stroke="#888" stroke-width="1.5"/>
<line x1="719" y1="596" x2="719" y2="643" stroke="#888" stroke-width="1.5"/>
<rect x="589" y="643" width="176" height="7" fill="#888"/>
<circle cx="645" cy="648" r="4" fill="#777"/><circle cx="708" cy="648" r="4" fill="#777"/>
<line x1="589" y1="655" x2="765" y2="655" stroke="#00ff00"/>
<line x1="589" y1="658" x2="765" y2="658" stroke="#00ff00"/>
<line x1="589" y1="661" x2="765" y2="661" stroke="#00ff00"/>
<line x1="698" y1="640" x2="698" y2="666" stroke="#fff" stroke-width="2"/>
<rect x="577" y="666" width="17" height="4" fill="#00e0e0"/>
<line x1="595" y1="661" x2="595" y2="710" stroke="#ffff00" stroke-width="1.5"/>
<line x1="600" y1="661" x2="600" y2="710" stroke="#00ff00" stroke-width="1.5"/>
<rect x="603" y="661" width="5" height="49" fill="#888"/>
<rect x="608" y="661" width="9" height="49" fill="#00e0e0"/>
<path d="M594,672 q4,5 0,10 q4,5 0,10" stroke="#00ff00" fill="none"/>
<g stroke="#ffa500" stroke-width="0.8" fill="none">
<polyline points="618,590 618,615 640,615"/><line x1="641" y1="614" x2="672" y2="614"/><polyline points="665,646 665,632 700,632"/>
<polyline points="590,634 598,634"/><polyline points="650,634 652,634 652,644"/><polyline points="614,632 614,640"/>
<line x1="617" y1="663" x2="656" y2="663"/><line x1="617" y1="668" x2="656" y2="668"/><line x1="617" y1="674" x2="656" y2="674"/>
<line x1="617" y1="694" x2="656" y2="694"/><line x1="617" y1="700" x2="656" y2="700"/><line x1="580" y1="705" x2="656" y2="705"/>
<polyline points="668,662 668,675 680,675"/><line x1="695" y1="675" x2="711" y2="675"/><polyline points="720,663 720,670 765,670"/><line x1="730" y1="651" x2="745" y2="651"/>
</g>
<g fill="none" stroke="#ffa500" stroke-width="0.8"><rect x="595" y="629" width="17" height="6"/><rect x="674" y="672" width="17" height="5"/><rect x="622" y="679" width="17" height="5"/></g>
<g fill="#ffff00" font-size="3.6">
<text x="624" y="613">吊杆</text><text x="651" y="612">螺栓</text><text x="622" y="636">主龙骨</text><text x="680" y="631">吊件</text><text x="597" y="639">板</text>
<text x="620" y="662">木龙骨基层</text><text x="620" y="667">木饰面板</text><text x="622" y="673">防火板</text><text x="621" y="687">面层</text><text x="622" y="692">乳胶</text><text x="622" y="699">封边</text><text x="622" y="704">基层</text>
<text x="698" y="674">石膏</text><text x="733" y="668">乳胶漆饰面</text><text x="745" y="652">板</text><text x="676" y="681">板</text>
</g>
<circle cx="681" cy="706" r="5.5" fill="none" stroke="#e020e0"/>
<text x="677" y="708" fill="#ffff00" font-size="3.5">H09</text>
<line x1="687" y1="707" x2="744" y2="707" stroke="#e020e0"/>
<text x="695" y="704" fill="#ffff00" font-size="3.6">吊顶收口详图</text>
</g>

<!-- BP5 -->
<g>
<rect x="811" y="578" width="66" height="20" fill="url(#dg)"/>
<rect x="811" y="598" width="19" height="82" fill="url(#dg)"/>
<line x1="830" y1="597.5" x2="877" y2="597.5" stroke="#e020e0" stroke-width="1.2"/>
<line x1="830.5" y1="597" x2="830.5" y2="680" stroke="#e020e0"/>
<rect x="834" y="602" width="43" height="10" fill="none" stroke="#ffff00"/>
<line x1="834" y1="611" x2="877" y2="611" stroke="#00e0e0"/>
<rect x="832" y="625" width="45" height="6" fill="url(#cx)" stroke="#00ff00"/>
<rect x="817" y="637" width="17" height="4" fill="#00e0e0"/>
<line x1="833" y1="632" x2="833" y2="680" stroke="#ffff00" stroke-width="1.5"/>
<line x1="840" y1="632" x2="840" y2="680" stroke="#00ff00" stroke-width="1.5"/>
<rect x="843" y="632" width="5" height="48" fill="#888"/>
<rect x="850" y="632" width="8" height="48" fill="#00e0e0"/>
<path d="M835,640 q4,5 0,10 q4,5 0,10" stroke="#00ff00" fill="none"/>
<g stroke="#ffa500" stroke-width="0.8" fill="none">
<line x1="858" y1="634" x2="877" y2="634"/><line x1="858" y1="640" x2="877" y2="640"/><line x1="858" y1="648" x2="877" y2="648"/>
<line x1="858" y1="656" x2="877" y2="656"/><line x1="858" y1="665" x2="877" y2="665"/><line x1="818" y1="675" x2="877" y2="675"/>
</g>
<circle cx="854" cy="692" r="5.5" fill="none" stroke="#e020e0"/>
<text x="850" y="694" fill="#ffff00" font-size="3.5">H10</text>
<line x1="860" y1="693" x2="877" y2="693" stroke="#e020e0"/>
<text x="803" y="707" fill="#ffff00" font-size="3.2">注：所有木基层需做防火防腐处理，石膏板接缝</text>
</g>

<!-- watermark -->
<text x="754" y="766" fill="#9a9a9a" font-family="Liberation Serif, serif" font-size="15" letter-spacing="0.5">www.snren.com</text>
</svg>
</body></html>
